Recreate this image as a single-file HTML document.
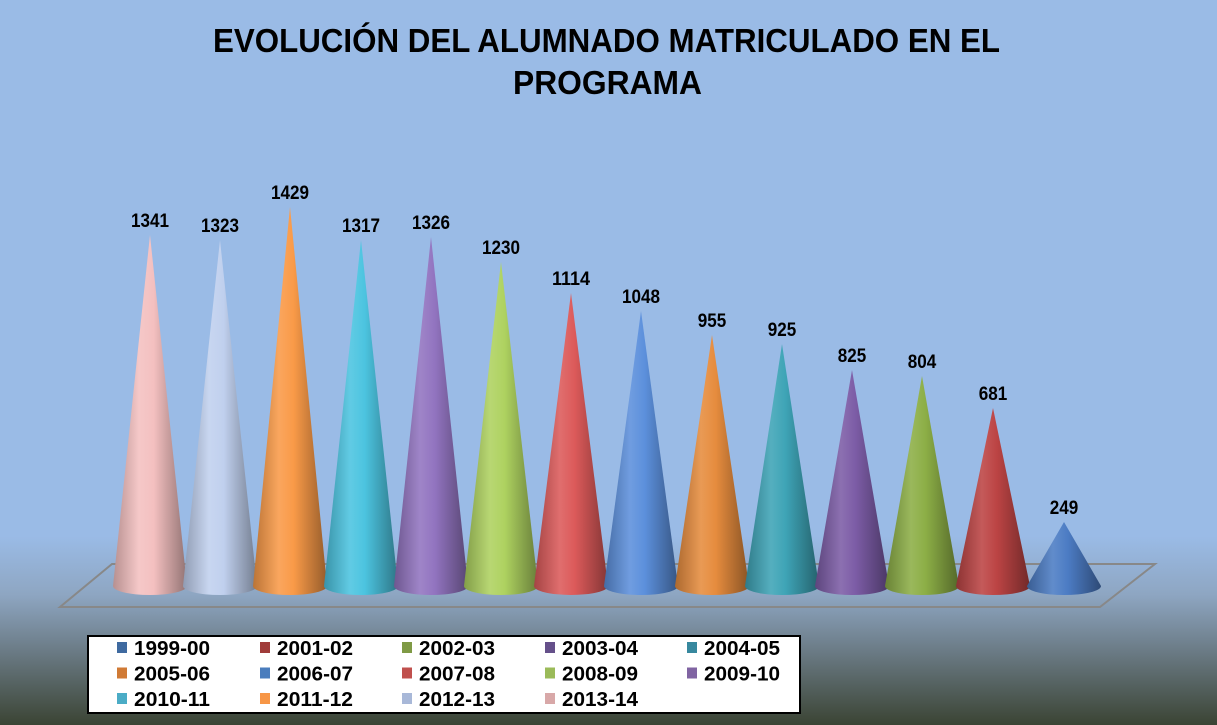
<!DOCTYPE html>
<html><head><meta charset="utf-8"><style>
html,body{margin:0;padding:0;width:1217px;height:725px;overflow:hidden;font-family:"Liberation Sans",sans-serif}
svg{display:block}
</style></head><body>
<svg width="1217" height="725" xmlns="http://www.w3.org/2000/svg">
<defs>
<linearGradient id="bg" x1="0" y1="0" x2="0" y2="1">
<stop offset="0" stop-color="#9abbe6"/><stop offset="0.74" stop-color="#9abbe6"/>
<stop offset="0.82" stop-color="#8ea6c2"/><stop offset="0.9" stop-color="#6a7a84"/><stop offset="1" stop-color="#3b4434"/>
</linearGradient>
</defs>
<rect width="1217" height="725" fill="url(#bg)"/>
<text x="213" y="52" textLength="787" lengthAdjust="spacingAndGlyphs" font-size="33" font-weight="bold" fill="#000">EVOLUCIÓN DEL ALUMNADO MATRICULADO EN EL</text>
<text x="513" y="94" textLength="189" lengthAdjust="spacingAndGlyphs" font-size="33" font-weight="bold" fill="#000">PROGRAMA</text>
<polygon points="60,607 1100,607 1155,564 112,564" fill="none" stroke="#888" stroke-width="2"/>
<g id="cones"></g>
<rect x="88" y="636" width="712" height="77" fill="#fff" stroke="#000" stroke-width="2"/>
<g font-size="20" font-weight="bold" fill="#000" id="leg"></g>
</svg>
<script>
var ns="http://www.w3.org/2000/svg",svg=document.querySelector('svg'),defs=svg.querySelector('defs');
var data=[[150,235,1341,"#f4c0c0"],[220,240,1323,"#c0d0ee"],[290,207,1429,"#f99a48"],[361,240,1317,"#4cc4e0"],[431,237,1326,"#9274c0"],[501,262,1230,"#aed260"],[571,293,1114,"#dc5a5a"],[641,311,1048,"#5c90dc"],[712,335,955,"#e68c3e"],[782,344,925,"#3ea4b6"],[852,370,825,"#7c5ca6"],[922,376,804,"#8cae46"],[993,408,681,"#bc4444"],[1064,522,249,"#4c7cc4"]];
function shade(h,f){var n=parseInt(h.slice(1),16),r=n>>16,g=(n>>8)&255,b=n&255;function c(v){return Math.max(0,Math.min(255,Math.round(f>1?v+(255-v)*(f-1):v*f)))}return"rgb("+c(r)+","+c(g)+","+c(b)+")"}
var cg=document.getElementById('cones');
data.forEach(function(d,i){
var id="g"+i,lg=document.createElementNS(ns,'linearGradient');lg.setAttribute('id',id);lg.setAttribute('x1','0');lg.setAttribute('x2','1');
[[0,0.75],[0.35,1.12],[0.55,1.0],[1,0.6]].forEach(function(s){var st=document.createElementNS(ns,'stop');st.setAttribute('offset',s[0]);st.setAttribute('stop-color',shade(d[3],s[1]));lg.appendChild(st)});
defs.appendChild(lg);
var x=d[0],t=d[1],w=37,by=586;
var p=document.createElementNS(ns,'path');
p.setAttribute('d',"M"+x+","+t+" L"+(x+w)+","+by+" A"+w+",9 0 0 1 "+(x-w)+","+by+" Z");
p.setAttribute('fill',"url(#"+id+")");cg.appendChild(p);
var tx=document.createElementNS(ns,'text');tx.setAttribute('x',x);tx.setAttribute('y',t-8);tx.setAttribute('text-anchor','middle');tx.setAttribute('font-size','19');tx.setAttribute('font-weight','bold');
var s=String(d[2]);tx.setAttribute('textLength',s.length*9.5);tx.setAttribute('lengthAdjust','spacingAndGlyphs');tx.textContent=s;cg.appendChild(tx);
});
var leg=[["1999-00","#3f6aa0"],["2001-02","#a03c3a"],["2002-03","#7f9a45"],["2003-04","#65508a"],["2004-05","#37889e"],["2005-06","#d07a35"],["2006-07","#4a7dbd"],["2007-08","#c0504d"],["2008-09","#9bbb59"],["2009-10","#8064a2"],["2010-11","#4bacc6"],["2011-12","#f79646"],["2012-13","#a8b8d8"],["2013-14","#d8a8a8"]];
var lgG=document.getElementById('leg');
var sx=[117,260,402,545,687];
leg.forEach(function(l,i){var c=i%5,r=Math.floor(i/5);
var rr=document.createElementNS(ns,'rect');rr.setAttribute('x',sx[c]);rr.setAttribute('y',642+r*25.5);rr.setAttribute('width',10);rr.setAttribute('height',11);rr.setAttribute('fill',l[1]);lgG.appendChild(rr);
var t=document.createElementNS(ns,'text');t.setAttribute('x',sx[c]+17);t.setAttribute('y',655+r*25.5);t.setAttribute('textLength','76');t.setAttribute('lengthAdjust','spacingAndGlyphs');t.textContent=l[0];lgG.appendChild(t);});
</script>
</body></html>
